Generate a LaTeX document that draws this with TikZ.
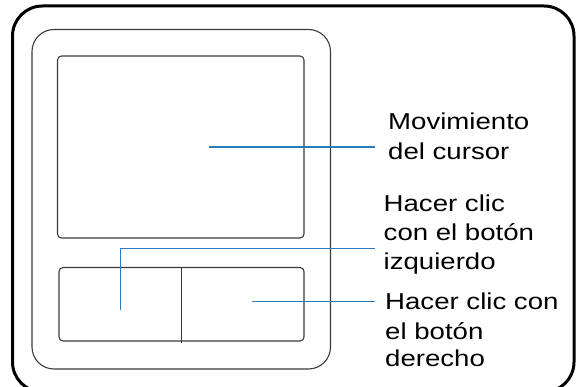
\documentclass[tikz,border=0pt]{standalone}
\usepackage{fontspec}
\newfontfamily\lblfont[FakeStretch=1.2]{Liberation Sans}
\definecolor{leader}{HTML}{2C7BBE}
\definecolor{edge}{HTML}{3A3A3A}
\begin{document}
\begin{tikzpicture}[x=1pt,y=-1pt,
  frame/.style={draw=black,line width=3pt,rounded corners=30pt},
  bezel/.style={draw=edge,line width=1.1pt,rounded corners=22pt},
  pad/.style={draw=edge,line width=1.1pt,rounded corners=4pt,inner sep=0pt},
  lead/.style={draw=leader,line width=1.4pt},
  lbl/.style={anchor=base west,inner sep=0pt,font=\lblfont\fontsize{23}{27}\selectfont}]
\useasboundingbox (0,0) rectangle (576,387);
\clip (0,0) rectangle (576,387);
\draw[frame] (12.5,6) rectangle (574,392);
\draw[bezel] (32,29.5) rectangle (330.5,369);
\node[pad,minimum width=246.5pt,minimum height=182pt] (touch) at (180.75,147) {};
\node[pad,minimum width=245pt,minimum height=73.5pt] (buttons) at (181.5,304.25) {};
\draw[edge,line width=1.4pt] (buttons.north) -- ([yshift=-1pt]buttons.south);
% labels
\node[lbl] (m1) at (388,129.3) {Movimiento};
\node[lbl] (m2) at (388,159.3) {del cursor};
\node[lbl] (l1) at (383.5,211.7) {Hacer clic};
\node[lbl] (l2) at (383.5,241) {con el botón};
\node[lbl] (l3) at (383.5,269.3) {izquierdo};
\node[lbl] (r1) at (385,309.3) {Hacer clic con};
\node[lbl] (r2) at (385,339.3) {el botón};
\node[lbl] (r3) at (385,366.7) {derecho};
% leader ends
\coordinate (a1) at (209,147);
\coordinate (b1) at (375,147);
\coordinate (a2) at (120.7,310);
\coordinate (b2) at (375,248.7);
\coordinate (a3) at (251.7,301.7);
\coordinate (b3) at (375,301.7);
\draw[lead] (a1) -- (b1);
\draw[lead] (a2) |- (b2);
\draw[lead] (a3) -- (b3);
\end{tikzpicture}
\end{document}
